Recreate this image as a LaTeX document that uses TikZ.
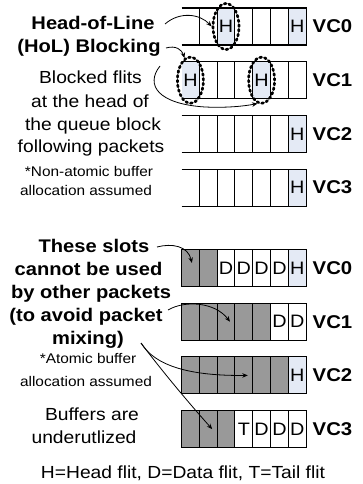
\documentclass[tikz,border=0pt]{standalone}
\usepackage{fontspec}
\setmainfont[FakeStretch=1.1]{Liberation Sans}
\usetikzlibrary{arrows.meta,shapes.geometric,calc}
\definecolor{hblue}{RGB}{228,234,245}
\definecolor{slotgray}{RGB}{153,153,153}
\begin{document}
\begin{tikzpicture}[x=1pt,y=-1pt,
  cell/.style={draw, line width=1.1pt, minimum width=17.8pt, minimum height=37pt, inner sep=0pt, outer sep=0pt, font=\fontsize{18}{18}\selectfont},
  opencell/.style={minimum width=17.8pt, minimum height=37pt, inner sep=0pt, outer sep=0pt, font=\fontsize{18}{18}\selectfont},
  plain/.style={},
  hflit/.style={fill=hblue},
  usedslot/.style={fill=slotgray},
  bufline/.style={line width=1.1pt},
  vclabel/.style={anchor=west, inner sep=0pt, font=\bfseries\fontsize{18.5}{18.5}\selectfont},
  boldtxt/.style={anchor=base, inner sep=0pt, font=\bfseries\fontsize{18.3}{18.3}\selectfont},
  regtxt/.style={anchor=base, inner sep=0pt, font=\fontsize{17.5}{17.5}\selectfont},
  smalltxt/.style={anchor=base, inner sep=0pt, font=\fontsize{14}{14}\selectfont},
  blockring/.style={draw, ellipse, line width=2.7pt, dash pattern=on 1.8pt off 3pt, line cap=round, minimum width=26pt, minimum height=46pt, inner sep=0pt},
  arr/.style={-{Stealth[length=5.5pt,width=4.5pt]}, line width=0.8pt},
]
\useasboundingbox (0,0) rectangle (363,484);

% ---------- non-atomic buffers ----------
% VC0
\node[opencell] (n00) at (190.4,26.5) {};
\foreach \k/\t/\s in {1/{}/plain,2/H/hflit,3/{}/plain,4/{}/plain,5/{}/plain,6/H/hflit}
  \node[cell,\s] (n0\k) at ({190.4+17.8*\k},26.5) {\t};
\draw[bufline] (n00.north west) -- (n01.north west);
\draw[bufline] (n00.south west) -- (n01.south west);
% VC1
\node[opencell,hflit] (n10) at (190.4,80.2) {H};
\foreach \k/\t/\s in {1/{}/plain,2/{}/plain,3/{}/plain,4/H/hflit,5/{}/plain,6/{}/plain}
  \node[cell,\s] (n1\k) at ({190.4+17.8*\k},80.2) {\t};
\draw[bufline] (n10.north west) -- (n11.north west);
\draw[bufline] (n10.south west) -- (n11.south west);
% VC2
\node[opencell] (n20) at (190.4,133.9) {};
\foreach \k/\t/\s in {1/{}/plain,2/{}/plain,3/{}/plain,4/{}/plain,5/{}/plain,6/H/hflit}
  \node[cell,\s] (n2\k) at ({190.4+17.8*\k},133.9) {\t};
\draw[bufline] (n20.north west) -- (n21.north west);
\draw[bufline] (n20.south west) -- (n21.south west);
% VC3
\node[opencell] (n30) at (190.4,187.6) {};
\foreach \k/\t/\s in {1/{}/plain,2/{}/plain,3/{}/plain,4/{}/plain,5/{}/plain,6/H/hflit}
  \node[cell,\s] (n3\k) at ({190.4+17.8*\k},187.6) {\t};
\draw[bufline] (n30.north west) -- (n31.north west);
\draw[bufline] (n30.south west) -- (n31.south west);

% blocked-flit rings
\node[blockring] (e1) at (n02.center) {};
\node[blockring] (e2) at (n10.center) {};
\node[blockring] (e3) at (n14.center) {};

% ---------- atomic buffers ----------
\foreach \k/\t/\s in {0/{}/usedslot,1/{}/usedslot,2/D/plain,3/D/plain,4/D/plain,5/D/plain,6/H/hflit}
  \node[cell,\s] (a0\k) at ({190.4+17.8*\k},268) {\t};
\foreach \k/\t/\s in {0/{}/usedslot,1/{}/usedslot,2/{}/usedslot,3/{}/usedslot,4/{}/usedslot,5/D/plain,6/D/plain}
  \node[cell,\s] (a1\k) at ({190.4+17.8*\k},321.7) {\t};
\foreach \k/\t/\s in {0/{}/usedslot,1/{}/usedslot,2/{}/usedslot,3/{}/usedslot,4/{}/usedslot,5/{}/usedslot,6/H/hflit}
  \node[cell,\s] (a2\k) at ({190.4+17.8*\k},375.4) {\t};
\foreach \k/\t/\s in {0/{}/usedslot,1/{}/usedslot,2/{}/usedslot,3/T/plain,4/D/plain,5/D/plain,6/D/plain}
  \node[cell,\s] (a3\k) at ({190.4+17.8*\k},429.1) {\t};

% ---------- VC labels ----------
\node[vclabel] (vn0) at (312.5,26.5) {VC0};
\node[vclabel] (vn1) at (312.5,80.2) {VC1};
\node[vclabel] (vn2) at (312.5,133.9) {VC2};
\node[vclabel] (vn3) at (312.5,187.6) {VC3};
\node[vclabel] (va0) at (312.5,268) {VC0};
\node[vclabel] (va1) at (312.5,321.7) {VC1};
\node[vclabel] (va2) at (312.5,375.4) {VC2};
\node[vclabel] (va3) at (312.5,429.1) {VC3};

% ---------- texts, top ----------
\node[boldtxt] (t1) at (93,29.5) {Head-of-Line};
\node[boldtxt] (t2) at (89,53) {(HoL) Blocking};
\node[regtxt] (t3) at (90.5,84) {Blocked flits};
\node[regtxt] (t4) at (90,107) {at the head of};
\node[regtxt] (t5) at (93,130) {the queue block};
\node[regtxt] (t6) at (91,152) {following packets};
\node[smalltxt] (t7) at (89,176) {*Non-atomic buffer};
\node[smalltxt] (t8) at (86,195) {allocation assumed};

% ---------- texts, bottom ----------
\node[boldtxt] (b1) at (94,252) {These slots};
\node[boldtxt] (b2) at (88.5,275) {cannot be used};
\node[boldtxt] (b3) at (91,298) {by other packets};
\node[boldtxt] (b4) at (86,321) {(to avoid packet};
\node[boldtxt] (b5) at (88,344) {mixing)};
\node[smalltxt] (b6) at (88,363) {*Atomic buffer};
\node[smalltxt] (b7) at (86,386) {allocation assumed};
\node[regtxt] (b8) at (92,420) {Buffers are};
\node[regtxt] (b9) at (84,443) {underutlized};
\node[regtxt] (leg) at (183,478) {H=Head flit, D=Data flit, T=Tail flit};

% ---------- arrows ----------
\coordinate (s1) at (165,24);
\draw[arr] (s1) .. controls (180,11) and (200,14) .. (e1.west);
\coordinate (s2) at (166,48);
\draw[arr] (s2) .. controls (176,45) and (182,50) .. (e2.105);
\coordinate (s3) at (160,66);
\draw[arr] (s3) .. controls (145,85) and (158,104) .. (205,107) .. controls (228,108) and (245,106) .. (e3.260);
\coordinate (s4) at (157,247);
\draw[arr] (s4) .. controls (172,243) and (188,246) .. ([xshift=1.5pt,yshift=5pt]a00.center);
\coordinate (s5) at (168,310);
\draw[arr] (s5) .. controls (185,300) and (215,302) .. ([xshift=4pt]a12.center);
\coordinate (s6) at (141,343);
\draw[arr] (s6) .. controls (155,366) and (190,376) .. ([xshift=4pt]a23.center);
\draw[arr] (s6) .. controls (165,375) and (195,410) .. ([xshift=4pt]a31.center);
\end{tikzpicture}
\end{document}
